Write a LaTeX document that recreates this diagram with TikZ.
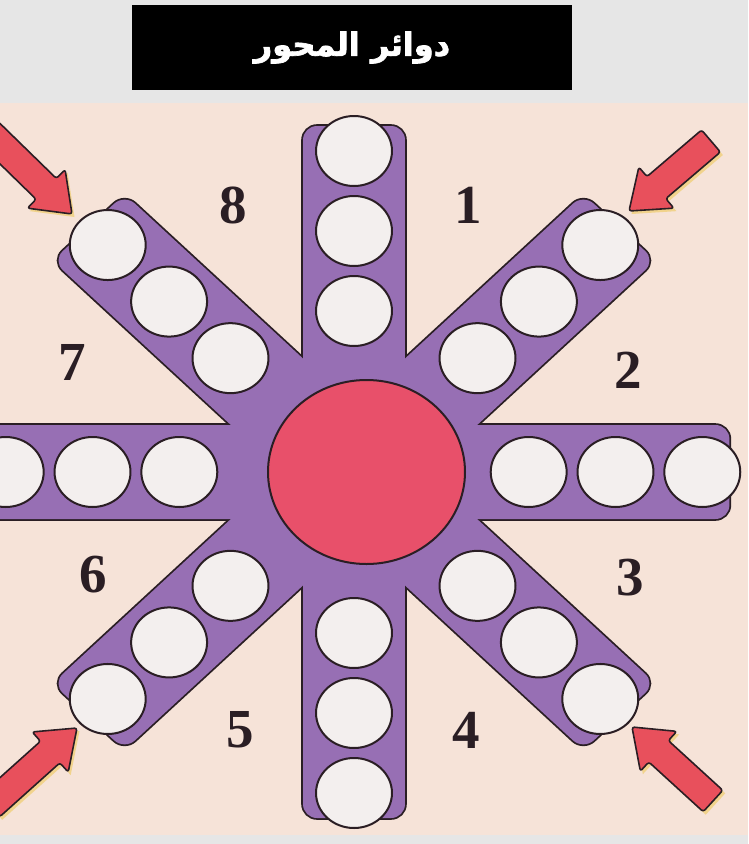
\documentclass[tikz,border=0pt]{standalone}
\usepackage{fontspec}
\usetikzlibrary{calc}
\TeXXeTstate=1
\newfontfamily\arabicfont[Script=Arabic,FakeBold=2.2]{DejaVu Sans Bold}
\newfontfamily\numfont{Liberation Serif}
\definecolor{bggray}{HTML}{E6E6E6}
\definecolor{paper}{HTML}{F6E3D8}
\definecolor{armpurple}{HTML}{976FB4}
\definecolor{hubred}{HTML}{E8506A}
\definecolor{disc}{HTML}{F3EFEE}
\definecolor{ink}{HTML}{2A1E24}
\definecolor{arrowred}{HTML}{E8505C}
\definecolor{shadowyel}{HTML}{F0CF7A}
\newcommand\drawRedArrow[2]{% #1 tip name, #2 tail name
  \coordinate (#1b) at ($(#1)!36pt!(#2)$);
  \coordinate (#1p1) at ($(#1b)!27pt!90:(#2)$);
  \coordinate (#1p2) at ($(#1b)!14.5pt!90:(#2)$);
  \coordinate (#1p3) at ($(#2)!14.5pt!-90:(#1)$);
  \coordinate (#1p4) at ($(#2)!14.5pt!90:(#1)$);
  \coordinate (#1p5) at ($(#1b)!14.5pt!-90:(#2)$);
  \coordinate (#1p6) at ($(#1b)!27pt!-90:(#2)$);
  \fill[shadowyel, opacity=0.8, transform canvas={shift={(2.5pt,-3pt)}}]
    (#1) -- (#1p1) -- (#1p2) -- (#1p3) -- (#1p4) -- (#1p5) -- (#1p6) -- cycle;
  \draw[arrowstyle] (#1) -- (#1p1) -- (#1p2) -- (#1p3) -- (#1p4) -- (#1p5) -- (#1p6) -- cycle;
}
\begin{document}
\begin{tikzpicture}[x=1pt,y=-1pt,
  arrowstyle/.style={fill=arrowred, draw=ink, line width=1.6pt, line join=round, rounded corners=2.5pt},
  armline/.style={draw=ink, line width=3.6pt, fill=armpurple, rounded corners=14pt},
  armfill/.style={fill=armpurple, rounded corners=14pt},
  discstyle/.style={fill=disc, draw=ink, line width=2pt},
  numstyle/.style={font=\numfont\bfseries\fontsize{55}{55}\selectfont, text=ink, inner sep=0pt},
  titlebox/.style={fill=black, minimum width=440pt, minimum height=85pt, inner sep=0pt, text=white,
    font=\arabicfont\fontsize{32}{32}\selectfont}]
\useasboundingbox (0,0) rectangle (748,844);
\fill[bggray] (0,0) rectangle (748,844);
\node[titlebox] (title) at (352,47.5) {\beginR دوائر المحور\endR};
\fill[paper] (0,103) rectangle (748,835);
\begin{scope}
\clip (0,103) rectangle (748,835);
% arrows
\coordinate (tipTL) at (72,214);  \coordinate (tailTL) at (-12,132);
\coordinate (tipTR) at (629,211); \coordinate (tailTR) at (711,141);
\coordinate (tipBL) at (77,728);  \coordinate (tailBL) at (-10,806);
\coordinate (tipBR) at (632,727); \coordinate (tailBR) at (713,801);
\drawRedArrow{tipTL}{tailTL}
\drawRedArrow{tipTR}{tailTR}
\drawRedArrow{tipBL}{tailBL}
\drawRedArrow{tipBR}{tailBR}
% star
\begin{scope}[shift={(354,472)}, xscale=1.085]
  \foreach \a in {0,45,...,315}
    \path[armline, rotate=\a] (-20,-47) rectangle (346,47);
  \foreach \a in {0,45,...,315}
    \path[armfill, rotate=\a] (-20,-47) rectangle (346,47);
  \foreach \a in {0,45,...,315}
    \foreach \d in {161,241,321}
      \path[discstyle, rotate=\a] (\d,0) circle[radius=35];
\end{scope}
\path[fill=hubred, draw=ink, line width=2pt] (366.5,472) ellipse [x radius=98.5, y radius=92];
% numbers
\node[numstyle] (n1) at (468,205) {1};
\node[numstyle] (n2) at (628,370) {2};
\node[numstyle] (n3) at (630,578) {3};
\node[numstyle] (n4) at (466,730) {4};
\node[numstyle] (n5) at (240,730) {5};
\node[numstyle] (n6) at (93,575) {6};
\node[numstyle] (n7) at (72,362) {7};
\node[numstyle] (n8) at (233,205) {8};
\end{scope}
\end{tikzpicture}
\end{document}
